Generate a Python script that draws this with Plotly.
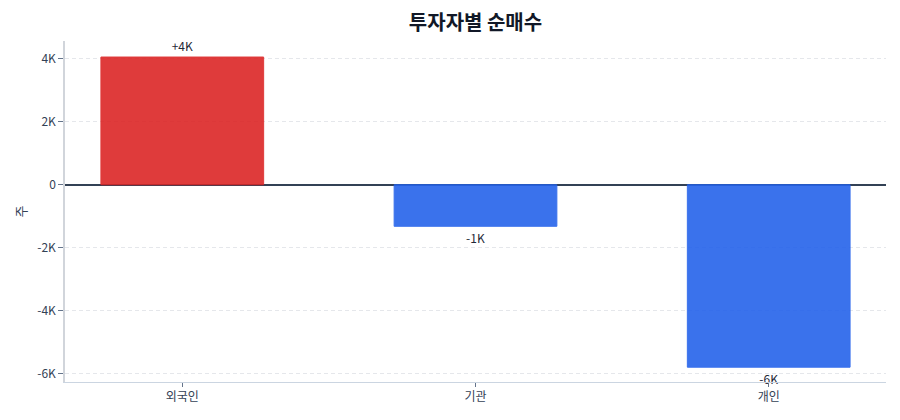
import plotly.graph_objects as go

investors = ["외국인", "기관", "개인"]
net_buy = [4060, -1320, -5800]

labels = [f"{v / 1000:+.0f}K" for v in net_buy]
colors = ["#dc2626" if v >= 0 else "#2563eb" for v in net_buy]

FONT = "Noto Sans CJK KR"

fig = go.Figure()
fig.add_trace(go.Bar(
    x=investors,
    y=net_buy,
    text=labels,
    textposition="outside",
    textfont=dict(size=12, color="#1f2937"),
    cliponaxis=False,
    width=0.555,
    marker=dict(color=colors, opacity=0.9, line=dict(color=colors, width=1)),
    showlegend=False,
))

fig.update_layout(
    width=900,
    height=420,
    margin=dict(l=57, r=22, t=33, b=46),
    paper_bgcolor="white",
    plot_bgcolor="white",
    font=dict(family=FONT, size=12, color="#334155"),
    title=dict(
        text="<b>투자자별 순매수</b>",
        xref="paper",
        x=0.5,
        xanchor="center",
        y=0.964,
        yanchor="middle",
        font=dict(family=FONT, size=20, color="#111827"),
    ),
)
fig.update_xaxes(
    range=[-0.4, 2.4],
    showline=True,
    linecolor="#cbd5e1",
    linewidth=1,
    ticks="outside",
    ticklen=4,
    tickcolor="#64748b",
    showgrid=False,
)
fig.update_yaxes(
    title=dict(text="주", font=dict(size=13, color="#334155"), standoff=8),
    range=[-6270, 4570],
    tickvals=[-6000, -4000, -2000, 0, 2000, 4000],
    ticktext=["-6K", "-4K", "-2K", "0", "2K", "4K"],
    showline=True,
    linecolor="#d1d5db",
    linewidth=1.5,
    ticks="outside",
    ticklen=5,
    tickcolor="#64748b",
    showgrid=True,
    gridcolor="#e5e7eb",
    griddash="4px,3px",
    zeroline=True,
    zerolinecolor="#334155",
    zerolinewidth=1.5,
)

fig.write_html("out.html")
